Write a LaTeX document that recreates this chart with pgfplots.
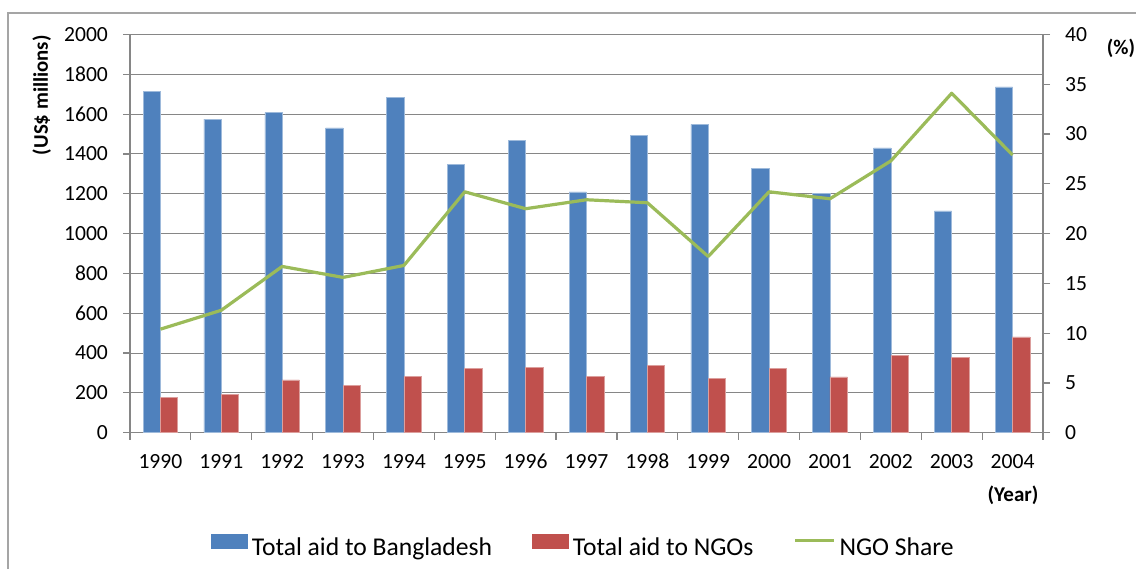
\documentclass[border=0pt]{standalone}
\usepackage{pgfplots}
\pgfplotsset{compat=1.18}
\usepackage{pgfplotstable}
\usepackage{fontspec}
\setmainfont{Carlito}

\definecolor{aidblue}{HTML}{4F81BD}
\definecolor{ngored}{HTML}{C0504D}
\definecolor{sharegreen}{HTML}{9BBB59}
\definecolor{axisgray}{RGB}{134,134,134}
\definecolor{framegray}{RGB}{165,165,165}

% aid flows in US$ millions, NGO share in percent
\pgfplotstableread{
idx year total ngo share
0  1990 1715 178 10.4
1  1991 1575 191 12.3
2  1992 1608 265 16.7
3  1993 1531 238 15.6
4  1994 1683 282 16.8
5  1995 1347 324 24.2
6  1996 1469 330 22.5
7  1997 1209 282 23.4
8  1998 1492 340 23.1
9  1999 1548 274 17.7
10 2000 1326 322 24.2
11 2001 1201 280 23.5
12 2002 1430 389 27.3
13 2003 1114 379 34.1
14 2004 1737 481 27.9
}\aiddata

\pgfplotsset{
  common/.style={
    at={(65pt,68.15pt)}, anchor=south west,
    scale only axis, width=456.5pt, height=199.1pt,
    xmin=-0.5, xmax=14.5,
    tick align=outside,
    axis line style={axisgray, line width=0.75pt},
    tick style={axisgray, line width=0.6pt},
    major tick length=3.5pt, minor tick length=3.5pt,
    ticklabel style={font=\fontsize{10.8pt}{13pt}\selectfont, text=black},
    /pgf/number format/assume math mode=true,
    /pgf/number format/1000 sep={},
  },
}

\begin{document}
\begin{tikzpicture}
\useasboundingbox (0,0) rectangle (568pt,284.5pt);
\draw[framegray, line width=0.6pt] (4pt,0) -- (4pt,278pt) -- (568pt,278pt);

\begin{axis}[
  common,
  ymin=0, ymax=2000, ytick distance=200,
  axis y line*=left, axis x line*=bottom,
  xtick={0,...,14},
  xticklabels={1990,1991,1992,1993,1994,1995,1996,1997,1998,1999,2000,2001,2002,2003,2004},
  minor xtick={-0.5,0.5,...,14.5},
  major x tick style={draw=none},
  ymajorgrids, grid style={axisgray, line width=0.5pt},
  yticklabel style={xshift=-4pt},
  xticklabel style={anchor=center, text height=6.9pt, text depth=0pt, yshift=-11.15pt},
  legend columns=3,
  legend style={
    at={(0.4955,-0.2845)}, anchor=center,
    draw=none, fill=none, inner sep=0pt,
    font=\fontsize{12.8pt}{15pt}\selectfont,
    nodes={inner sep=0pt},
    /tikz/every odd column/.append style={column sep=2pt},
    /tikz/every even column/.append style={column sep=20pt},
  },
]
\addplot[ybar, bar width=8.65pt, bar shift=-4.33pt, fill=aidblue,
  draw=aidblue!55!white, line width=0.3pt, forget plot]
  table[x=idx, y=total]{\aiddata};
\addplot[ybar, bar width=8.65pt, bar shift=4.33pt, fill=ngored,
  draw=ngored!55!white, line width=0.3pt, forget plot]
  table[x=idx, y=ngo]{\aiddata};

\addlegendimage{legend image code/.code={\fill[aidblue] (0pt,0pt) rectangle (18pt,7pt);}}
\addlegendentry{Total aid to Bangladesh}
\addlegendimage{legend image code/.code={\fill[ngored] (0pt,0pt) rectangle (18pt,7pt);}}
\addlegendentry{Total aid to NGOs}
\addlegendimage{legend image code/.code={\draw[sharegreen, line width=1.5pt] (0pt,3.65pt) -- (19.5pt,3.65pt);}}
\addlegendentry{NGO Share}
\end{axis}

\begin{axis}[
  common,
  ymin=0, ymax=40, ytick distance=5,
  axis y line*=right, axis x line=none,
  yticklabel style={xshift=4pt},
]
\addplot[sharegreen, line width=1.6pt, line join=round]
  table[x=idx, y=share]{\aiddata};
\end{axis}

\node[rotate=90, anchor=east, inner sep=0pt, font=\fontsize{10.4pt}{12pt}\selectfont\bfseries]
  at (20.85pt,267pt) {(US\$ millions)};
\node[inner sep=0pt, font=\fontsize{10.5pt}{12pt}\selectfont\bfseries]
  at (506.5pt,36.75pt) {(Year)};
\node[inner sep=0pt, font=\fontsize{10.4pt}{12pt}\selectfont\bfseries]
  at (560.5pt,260.5pt) {(\%)};
\end{tikzpicture}
\end{document}
